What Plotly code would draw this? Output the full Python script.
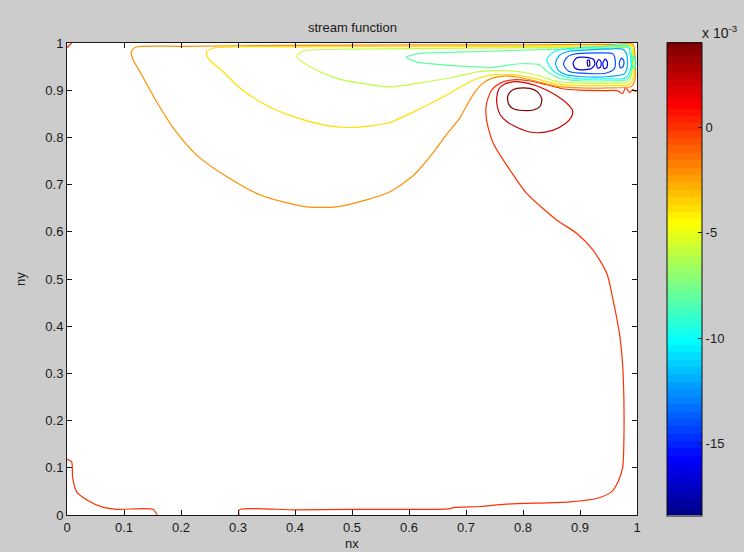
import plotly.graph_objects as go

# Stream-function contour levels (units of 1e-3) and colour-axis limits
PSI_MIN = -18.43
PSI_MAX = 4.05
CBAR_TICKS = [0, -5, -10, -15]
X_TICKS = [0, 0.1, 0.2, 0.3, 0.4, 0.5, 0.6, 0.7, 0.8, 0.9, 1]
Y_TICKS = [0, 0.1, 0.2, 0.3, 0.4, 0.5, 0.6, 0.7, 0.8, 0.9, 1]

# Contour paths, (nx, ny) pairs, one list per level
c_p4 = [(0.773, 0.886), (0.779, 0.898), (0.789, 0.904), (0.812, 0.904), (0.826, 0.896),
        (0.833, 0.881), (0.830, 0.866), (0.818, 0.858), (0.800, 0.857), (0.784, 0.860),
        (0.775, 0.870), (0.773, 0.886)]

c_p2 = [(0.754, 0.886), (0.758, 0.903), (0.768, 0.913), (0.785, 0.918), (0.803, 0.916),
        (0.822, 0.910), (0.842, 0.900), (0.862, 0.886), (0.877, 0.872), (0.887, 0.857),
        (0.885, 0.843), (0.874, 0.829), (0.852, 0.815), (0.830, 0.810), (0.810, 0.812),
        (0.792, 0.820), (0.773, 0.832), (0.760, 0.848), (0.755, 0.865), (0.754, 0.886)]

c_0_corner = [(0.0, 0.118), (0.008, 0.113), (0.010, 0.078), (0.017, 0.049), (0.035, 0.032),
              (0.064, 0.016), (0.087, 0.012), (0.151, 0.012), (0.158, 0.0)]

c_0_main = [(0.302, 0.0), (0.302, 0.011), (0.40, 0.011), (0.50, 0.012), (0.60, 0.012),
            (0.67, 0.013), (0.68, 0.016), (0.725, 0.018), (0.771, 0.023), (0.882, 0.028),
            (0.929, 0.035), (0.955, 0.049), (0.967, 0.071), (0.975, 0.102), (0.977, 0.159),
            (0.977, 0.244), (0.975, 0.314), (0.970, 0.378), (0.964, 0.420), (0.958, 0.456),
            (0.947, 0.512), (0.923, 0.561), (0.894, 0.597), (0.859, 0.625), (0.806, 0.682),
            (0.777, 0.731), (0.748, 0.787), (0.736, 0.837), (0.736, 0.872), (0.745, 0.900),
            (0.760, 0.915), (0.783, 0.922), (0.810, 0.920), (0.840, 0.912), (0.870, 0.903),
            (0.900, 0.900), (0.940, 0.899), (0.965, 0.899), (0.975, 0.893), (0.980, 0.906),
            (0.987, 0.895), (0.993, 0.902), (0.997, 0.897), (1.0, 0.900)]

c_0_top = [(0.0, 0.990), (0.008, 1.0)]

c_m2 = [(0.113, 0.982), (0.120, 0.991), (0.200, 0.993), (0.400, 0.995), (0.600, 0.996),
        (0.800, 0.996), (0.950, 0.997), (0.993, 0.997), (0.996, 0.980), (0.997, 0.950),
        (0.996, 0.920), (0.990, 0.908), (0.950, 0.905), (0.900, 0.905), (0.860, 0.908),
        (0.820, 0.920), (0.790, 0.928), (0.765, 0.930), (0.745, 0.925), (0.730, 0.915),
        (0.715, 0.895), (0.700, 0.865), (0.689, 0.841), (0.665, 0.805), (0.642, 0.767),
        (0.610, 0.722), (0.567, 0.685), (0.514, 0.664), (0.473, 0.653), (0.420, 0.653),
        (0.339, 0.678), (0.280, 0.717), (0.227, 0.763), (0.187, 0.819), (0.157, 0.876),
        (0.128, 0.939), (0.115, 0.967), (0.113, 0.982)]

c_m4 = [(0.245, 0.982), (0.260, 0.990), (0.400, 0.992), (0.600, 0.993), (0.800, 0.993),
        (0.950, 0.994), (0.992, 0.994), (0.994, 0.970), (0.994, 0.930), (0.988, 0.913),
        (0.950, 0.910), (0.900, 0.910), (0.860, 0.913), (0.820, 0.925), (0.780, 0.933),
        (0.750, 0.933), (0.725, 0.927), (0.707, 0.918), (0.666, 0.890), (0.608, 0.854),
        (0.567, 0.832), (0.537, 0.825), (0.491, 0.821), (0.456, 0.825), (0.397, 0.844),
        (0.344, 0.872), (0.304, 0.904), (0.274, 0.939), (0.248, 0.967), (0.245, 0.982)]

c_m6 = [(0.403, 0.971), (0.415, 0.983), (0.500, 0.987), (0.700, 0.989), (0.850, 0.990),
        (0.950, 0.991), (0.990, 0.991), (0.992, 0.970), (0.991, 0.935), (0.985, 0.918),
        (0.950, 0.915), (0.900, 0.915), (0.860, 0.918), (0.830, 0.930), (0.800, 0.938),
        (0.780, 0.941), (0.725, 0.940), (0.680, 0.928), (0.637, 0.919), (0.567, 0.907),
        (0.514, 0.915), (0.473, 0.925), (0.432, 0.946), (0.403, 0.971)]

c_m8 = [(0.595, 0.970), (0.610, 0.976), (0.637, 0.979), (0.725, 0.982), (0.830, 0.986),
        (0.930, 0.988), (0.988, 0.988), (0.990, 0.965), (0.989, 0.935), (0.982, 0.922),
        (0.950, 0.920), (0.900, 0.920), (0.865, 0.925), (0.842, 0.940), (0.830, 0.953),
        (0.795, 0.956), (0.742, 0.948), (0.690, 0.951), (0.654, 0.954), (0.613, 0.960),
        (0.595, 0.970)]

c_m10 = [(0.842, 0.965), (0.850, 0.978), (0.865, 0.986), (0.929, 0.992), (0.985, 0.993),
         (0.988, 0.975), (0.990, 0.955), (0.986, 0.935), (0.978, 0.925), (0.947, 0.924),
         (0.900, 0.924), (0.875, 0.928), (0.856, 0.938), (0.846, 0.952), (0.842, 0.965)]
c_m10_b = [(0.995, 0.972), (0.991, 0.962), (0.992, 0.950), (0.996, 0.946), (0.998, 0.960),
           (0.995, 0.972)]

c_m12 = [(0.857, 0.958), (0.865, 0.975), (0.880, 0.982), (0.930, 0.986), (0.975, 0.987),
         (0.982, 0.975), (0.983, 0.950), (0.978, 0.935), (0.950, 0.929), (0.900, 0.929),
         (0.875, 0.933), (0.862, 0.942), (0.857, 0.958)]

c_m14 = [(0.871, 0.955), (0.876, 0.968), (0.885, 0.975), (0.930, 0.979), (0.958, 0.977),
         (0.962, 0.960), (0.960, 0.945), (0.945, 0.936), (0.900, 0.936), (0.880, 0.940),
         (0.871, 0.955)]
c_m14_b = [(0.973, 0.968), (0.969, 0.958), (0.971, 0.947), (0.976, 0.951), (0.977, 0.962),
           (0.973, 0.968)]

c_m16 = [(0.888, 0.958), (0.894, 0.968), (0.903, 0.970), (0.915, 0.969), (0.924, 0.965),
         (0.926, 0.955), (0.920, 0.946), (0.900, 0.943), (0.891, 0.947), (0.888, 0.958)]
c_m16_b = [(0.933, 0.965), (0.929, 0.957), (0.931, 0.947), (0.936, 0.949), (0.937, 0.960),
           (0.933, 0.965)]
c_m16_c = [(0.944, 0.966), (0.940, 0.957), (0.942, 0.946), (0.947, 0.948), (0.948, 0.960),
           (0.944, 0.966)]

c_m18 = [(0.913, 0.963), (0.916, 0.964), (0.917, 0.952), (0.914, 0.951), (0.913, 0.963)]

contour_sets = [
    (4, [c_p4]),
    (2, [c_p2]),
    (0, [c_0_corner, c_0_main, c_0_top]),
    (-2, [c_m2]),
    (-4, [c_m4]),
    (-6, [c_m6]),
    (-8, [c_m8]),
    (-10, [c_m10, c_m10_b]),
    (-12, [c_m12]),
    (-14, [c_m14, c_m14_b]),
    (-16, [c_m16, c_m16_b, c_m16_c]),
    (-18, [c_m18]),
]


def _clip(v):
    return max(0.0, min(1.0, v))


def jet(t):
    r = _clip(min(4 * t - 1.5, -4 * t + 4.5))
    g = _clip(min(4 * t - 0.5, -4 * t + 3.5))
    b = _clip(min(4 * t + 0.5, -4 * t + 2.5))
    return "rgb(%d,%d,%d)" % (round(r * 255), round(g * 255), round(b * 255))


N_COLORS = 64
jet_table = [jet((i + 1) / N_COLORS) for i in range(N_COLORS)]

# stepped colour scale (64 flat bins, like a discrete colormap)
stepped = []
for i, c in enumerate(jet_table):
    stepped.append([i / N_COLORS, c])
    stepped.append([(i + 1) / N_COLORS, c])


def level_color(v):
    idx = int((v - PSI_MIN) / (PSI_MAX - PSI_MIN) * N_COLORS)
    idx = max(0, min(N_COLORS - 1, idx))
    return jet_table[idx]


FONT = "Liberation Sans, Arial"

fig = go.Figure()

for level, paths in contour_sets:
    col = level_color(level)
    for path in paths:
        xs = [p[0] for p in path]
        ys = [p[1] for p in path]
        fig.add_trace(go.Scatter(
            x=xs, y=ys, mode="lines",
            line=dict(color=col, width=1.2, shape="spline", smoothing=0.7),
            hoverinfo="skip", showlegend=False,
        ))

# colour bar carrier
fig.add_trace(go.Scatter(
    x=[None], y=[None], mode="markers", showlegend=False, hoverinfo="skip",
    marker=dict(
        color=[PSI_MIN], cmin=PSI_MIN, cmax=PSI_MAX, colorscale=stepped,
        showscale=True,
        colorbar=dict(
            x=(667 - 67) / 570, xanchor="left", y=0.5, yanchor="middle",
            thickness=35, thicknessmode="pixels",
            len=473, lenmode="pixels",
            xpad=0, ypad=0,
            outlinewidth=1, outlinecolor="#111111",
            ticks="inside", ticklen=4, tickcolor="#111111",
            tickvals=CBAR_TICKS, ticktext=[str(t) for t in CBAR_TICKS],
            tickfont=dict(family=FONT, size=13, color="#1a1a1a"),
        ),
    ),
))

axis_common = dict(
    showline=True, linecolor="#1a1a1a", linewidth=1, mirror="ticks",
    ticks="inside", ticklen=5, tickcolor="#1a1a1a", tickwidth=1,
    showgrid=False, zeroline=False,
    tickfont=dict(family=FONT, size=13, color="#1a1a1a"),
)

fig.update_layout(
    width=744, height=552,
    margin=dict(l=67, r=107, t=43, b=37),
    paper_bgcolor="#cccccc", plot_bgcolor="#ffffff",
    xaxis=dict(range=[0, 1], tickvals=X_TICKS, ticktext=[("%g" % v) for v in X_TICKS], **axis_common),
    yaxis=dict(range=[0, 1], tickvals=Y_TICKS, ticktext=[("%g" % v) for v in Y_TICKS], **axis_common),
    font=dict(family=FONT, size=13, color="#1a1a1a"),
    annotations=[
        dict(text="stream function", x=0.5, y=(515 - 27) / 472, xref="paper", yref="paper",
             showarrow=False, xanchor="center", yanchor="middle",
             font=dict(family=FONT, size=13, color="#1a1a1a")),
        dict(text="nx", x=0.5, y=(515 - 543) / 472, xref="paper", yref="paper",
             showarrow=False, xanchor="center", yanchor="middle",
             font=dict(family=FONT, size=13, color="#1a1a1a")),
        dict(text="ny", x=(20 - 67) / 570, y=0.5, xref="paper", yref="paper", textangle=-90,
             showarrow=False, xanchor="center", yanchor="middle",
             font=dict(family=FONT, size=13, color="#1a1a1a")),
        dict(text="x 10<sup>-3</sup>", x=(700 - 67) / 570, y=(515 - 32) / 472,
             xref="paper", yref="paper", showarrow=False, xanchor="left", yanchor="middle",
             font=dict(family=FONT, size=14, color="#1a1a1a")),
    ],
)

fig.write_html("out.html")
